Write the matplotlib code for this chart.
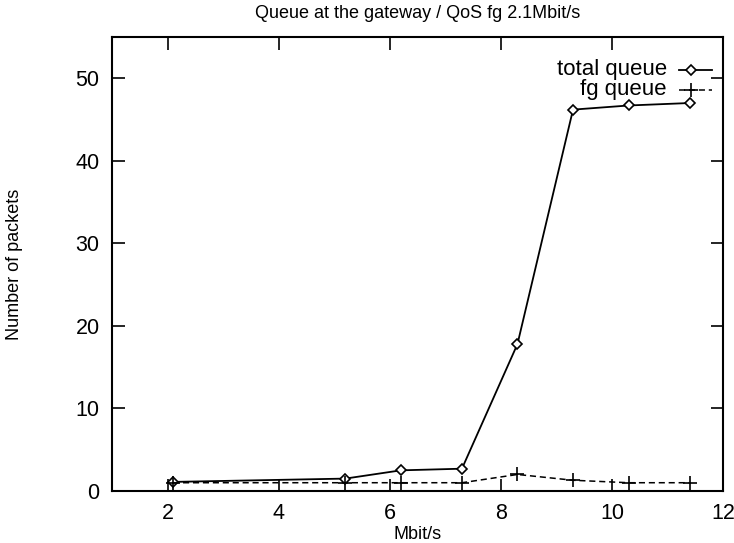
import matplotlib
matplotlib.use("Agg")
import matplotlib.pyplot as plt
from matplotlib.lines import Line2D

plt.rcParams['font.family'] = ['Liberation Sans', 'DejaVu Sans']

x_vals = [2.1, 5.2, 6.2, 7.3, 8.3, 9.3, 10.3, 11.4]
total_queue = [1.1, 1.5, 2.5, 2.7, 17.8, 46.2, 46.7, 47.0]
fg_queue = [1.0, 1.0, 1.0, 1.0, 2.0, 1.3, 1.0, 1.0]
xticks = [2, 4, 6, 8, 10, 12]
yticks = [0, 10, 20, 30, 40, 50]

fig = plt.figure(figsize=(7.34, 5.43), dpi=100)
ax = fig.add_axes([0.1526, 0.0958, 0.8324, 0.8361])

ax.plot(x_vals, total_queue, color='black', lw=1.3, marker='D', markersize=5.5,
        markerfacecolor='white', markeredgecolor='black', markeredgewidth=1.2)
ax.plot(x_vals, fg_queue, color='black', lw=1.1, linestyle=(0, (4, 2.5)), marker='+',
        markersize=10, markeredgewidth=1.2)

ax.set_xlim(1, 12)
ax.set_ylim(0, 55)
ax.set_xticks(xticks)
ax.set_yticks(yticks)
ax.tick_params(direction='in', length=9, width=1.2, top=True, right=True, labelsize=15.5, pad=9)
for s in ax.spines.values():
    s.set_linewidth(1.5)

ax.set_title('Queue at the gateway / QoS fg 2.1Mbit/s', fontsize=13, pad=14)
ax.set_xlabel('Mbit/s', fontsize=13, labelpad=1)
ax.set_ylabel('Number of packets', fontsize=13)
ax.yaxis.set_label_coords(-0.146, 0.5)

# gnuplot-style legend: right-aligned text, then sample
ly1, ly2 = 0.928, 0.884
ax.text(0.908, ly1, 'total queue', transform=ax.transAxes, ha='right', va='center', fontsize=16)
ax.text(0.908, ly2, 'fg queue', transform=ax.transAxes, ha='right', va='center', fontsize=16)
ax.add_line(Line2D([0.928, 0.982], [ly1, ly1], transform=ax.transAxes, color='black', lw=1.3))
ax.add_line(Line2D([0.948], [ly1], transform=ax.transAxes, color='black', marker='D', markersize=5.5,
                   markerfacecolor='white', markeredgewidth=1.2))
ax.add_line(Line2D([0.928, 0.982], [ly2, ly2], transform=ax.transAxes, color='black', lw=1.1,
                   linestyle=(0, (4, 2.5))))
ax.add_line(Line2D([0.948], [ly2], transform=ax.transAxes, color='black', marker='+', markersize=10,
                   markeredgewidth=1.2))

fig.savefig('out.png', dpi=100)
